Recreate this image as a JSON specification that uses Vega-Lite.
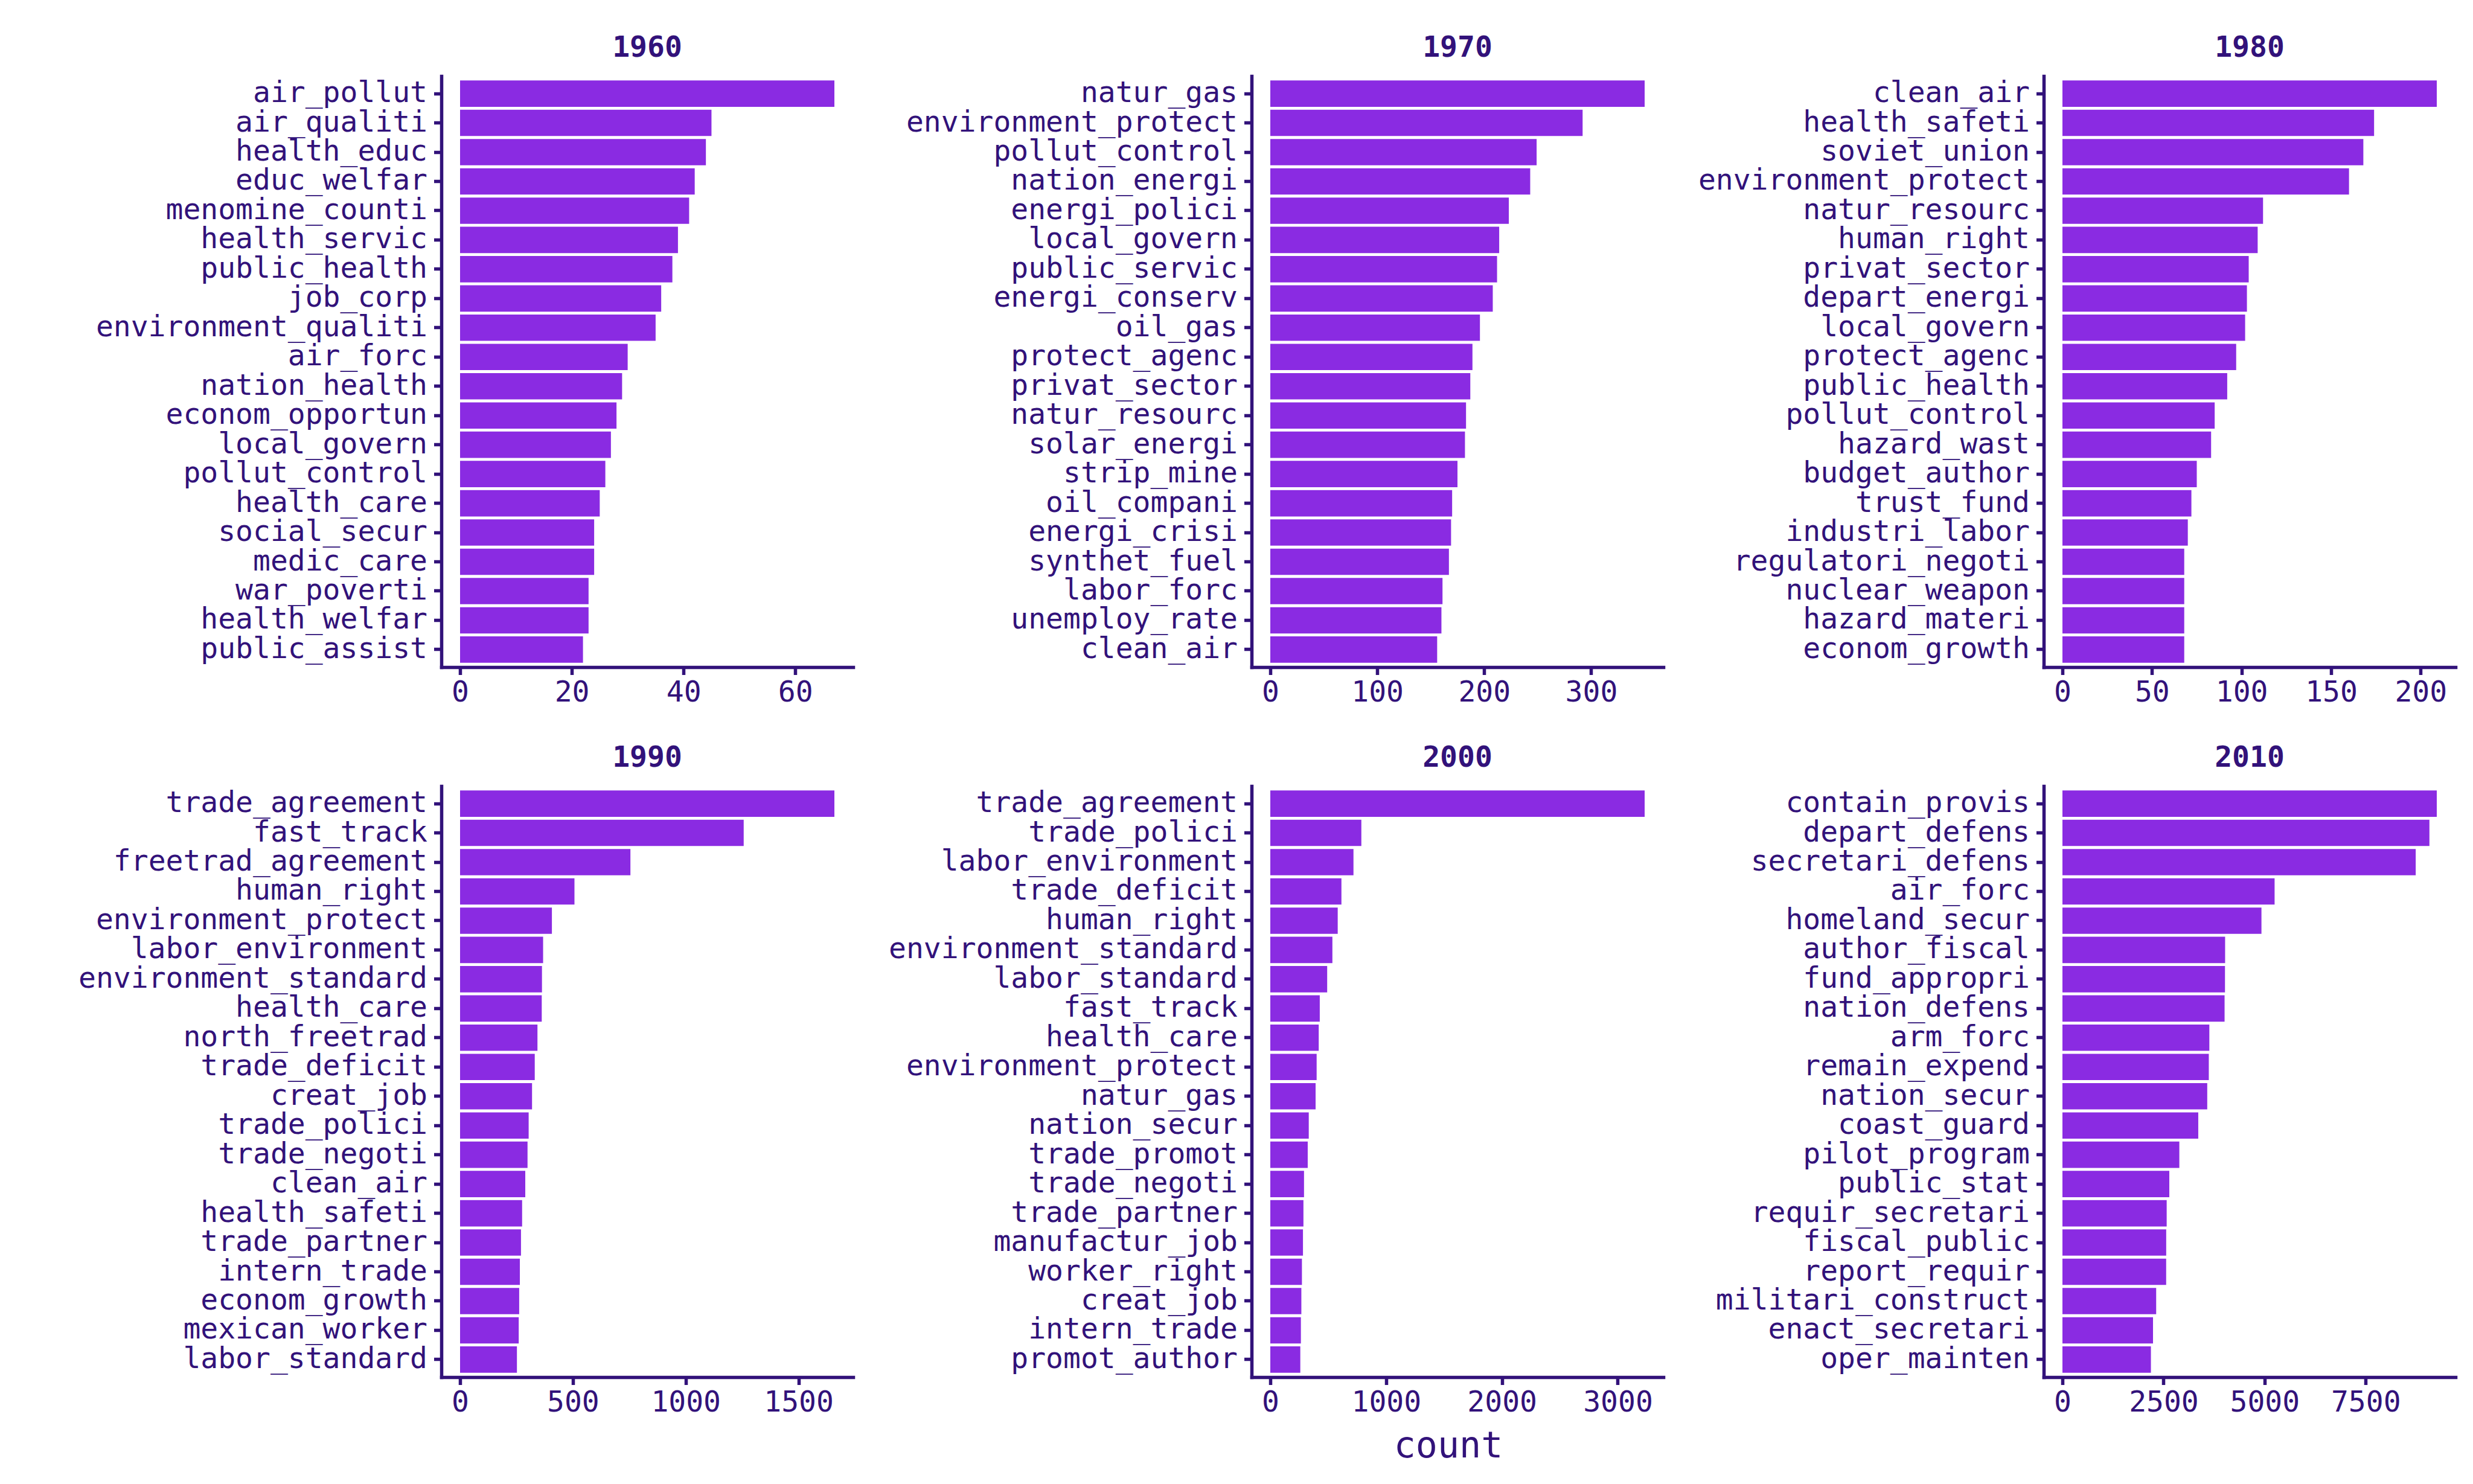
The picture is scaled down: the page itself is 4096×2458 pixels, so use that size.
{
  "$schema": "https://vega.github.io/schema/vega-lite/v6.json",
  "background": "white",
  "padding": {"left": 101, "top": 56, "right": 5, "bottom": 5},
  "datasets": {
    "y1960": [
      {"term": "air_pollut", "count": 67}, {"term": "air_qualiti", "count": 45}, {"term": "health_educ", "count": 44},
      {"term": "educ_welfar", "count": 42}, {"term": "menomine_counti", "count": 41}, {"term": "health_servic", "count": 39},
      {"term": "public_health", "count": 38}, {"term": "job_corp", "count": 36}, {"term": "environment_qualiti", "count": 35},
      {"term": "air_forc", "count": 30}, {"term": "nation_health", "count": 29}, {"term": "econom_opportun", "count": 28},
      {"term": "local_govern", "count": 27}, {"term": "pollut_control", "count": 26}, {"term": "health_care", "count": 25},
      {"term": "social_secur", "count": 24}, {"term": "medic_care", "count": 24}, {"term": "war_poverti", "count": 23},
      {"term": "health_welfar", "count": 23}, {"term": "public_assist", "count": 22}
    ],
    "y1970": [
      {"term": "natur_gas", "count": 350}, {"term": "environment_protect", "count": 292}, {"term": "pollut_control", "count": 249},
      {"term": "nation_energi", "count": 243}, {"term": "energi_polici", "count": 223}, {"term": "local_govern", "count": 214},
      {"term": "public_servic", "count": 212}, {"term": "energi_conserv", "count": 208}, {"term": "oil_gas", "count": 196},
      {"term": "protect_agenc", "count": 189}, {"term": "privat_sector", "count": 187}, {"term": "natur_resourc", "count": 183},
      {"term": "solar_energi", "count": 182}, {"term": "strip_mine", "count": 175}, {"term": "oil_compani", "count": 170},
      {"term": "energi_crisi", "count": 169}, {"term": "synthet_fuel", "count": 167}, {"term": "labor_forc", "count": 161},
      {"term": "unemploy_rate", "count": 160}, {"term": "clean_air", "count": 156}
    ],
    "y1980": [
      {"term": "clean_air", "count": 209}, {"term": "health_safeti", "count": 174}, {"term": "soviet_union", "count": 168},
      {"term": "environment_protect", "count": 160}, {"term": "natur_resourc", "count": 112}, {"term": "human_right", "count": 109},
      {"term": "privat_sector", "count": 104}, {"term": "depart_energi", "count": 103}, {"term": "local_govern", "count": 102},
      {"term": "protect_agenc", "count": 97}, {"term": "public_health", "count": 92}, {"term": "pollut_control", "count": 85},
      {"term": "hazard_wast", "count": 83}, {"term": "budget_author", "count": 75}, {"term": "trust_fund", "count": 72},
      {"term": "industri_labor", "count": 70}, {"term": "regulatori_negoti", "count": 68}, {"term": "nuclear_weapon", "count": 68},
      {"term": "hazard_materi", "count": 68}, {"term": "econom_growth", "count": 68}
    ],
    "y1990": [
      {"term": "trade_agreement", "count": 1659}, {"term": "fast_track", "count": 1257}, {"term": "freetrad_agreement", "count": 755},
      {"term": "human_right", "count": 507}, {"term": "environment_protect", "count": 407}, {"term": "labor_environment", "count": 368},
      {"term": "environment_standard", "count": 363}, {"term": "health_care", "count": 362}, {"term": "north_freetrad", "count": 343},
      {"term": "trade_deficit", "count": 331}, {"term": "creat_job", "count": 319}, {"term": "trade_polici", "count": 304},
      {"term": "trade_negoti", "count": 299}, {"term": "clean_air", "count": 289}, {"term": "health_safeti", "count": 275},
      {"term": "trade_partner", "count": 270}, {"term": "intern_trade", "count": 265}, {"term": "econom_growth", "count": 262},
      {"term": "mexican_worker", "count": 260}, {"term": "labor_standard", "count": 252}
    ],
    "y2000": [
      {"term": "trade_agreement", "count": 3232}, {"term": "trade_polici", "count": 786}, {"term": "labor_environment", "count": 718},
      {"term": "trade_deficit", "count": 614}, {"term": "human_right", "count": 582}, {"term": "environment_standard", "count": 536},
      {"term": "labor_standard", "count": 491}, {"term": "fast_track", "count": 427}, {"term": "health_care", "count": 418},
      {"term": "environment_protect", "count": 400}, {"term": "natur_gas", "count": 391}, {"term": "nation_secur", "count": 332},
      {"term": "trade_promot", "count": 323}, {"term": "trade_negoti", "count": 291}, {"term": "trade_partner", "count": 286},
      {"term": "manufactur_job", "count": 282}, {"term": "worker_right", "count": 273}, {"term": "creat_job", "count": 268},
      {"term": "intern_trade", "count": 264}, {"term": "promot_author", "count": 259}
    ],
    "y2010": [
      {"term": "contain_provis", "count": 9258}, {"term": "depart_defens", "count": 9076}, {"term": "secretari_defens", "count": 8737},
      {"term": "air_forc", "count": 5247}, {"term": "homeland_secur", "count": 4922}, {"term": "author_fiscal", "count": 4023},
      {"term": "fund_appropri", "count": 4020}, {"term": "nation_defens", "count": 4010}, {"term": "arm_forc", "count": 3633},
      {"term": "remain_expend", "count": 3620}, {"term": "nation_secur", "count": 3581}, {"term": "coast_guard", "count": 3359},
      {"term": "pilot_program", "count": 2891}, {"term": "public_stat", "count": 2643}, {"term": "requir_secretari", "count": 2578},
      {"term": "fiscal_public", "count": 2566}, {"term": "report_requir", "count": 2565}, {"term": "militari_construct", "count": 2318},
      {"term": "enact_secretari", "count": 2240}, {"term": "oper_mainten", "count": 2188}
    ]
  },
  "vconcat": [
    {
      "hconcat": [
        {
          "data": {"name": "y1960"}, "width": 682, "height": 979, "title": {"text": "1960"},
          "mark": {"type": "bar", "color": "#8A2BE2"},
          "encoding": {
            "y": {"field": "term", "type": "nominal", "sort": null, "scale": {"paddingInner": 0.1, "paddingOuter": 0.15}, "axis": {"title": null, "minExtent": 630, "maxExtent": 630}},
            "x": {"field": "count", "type": "quantitative", "scale": {"domain": [-3.35, 70.35], "nice": false, "zero": false}, "axis": {"values": [0, 20, 40, 60], "title": null}}
          }
        },
        {
          "data": {"name": "y1970"}, "width": 682, "height": 979, "title": {"text": "1970"},
          "mark": {"type": "bar", "color": "#8A2BE2"},
          "encoding": {
            "y": {"field": "term", "type": "nominal", "sort": null, "scale": {"paddingInner": 0.1, "paddingOuter": 0.15}, "axis": {"title": null, "minExtent": 630, "maxExtent": 630}},
            "x": {"field": "count", "type": "quantitative", "scale": {"domain": [-17.5, 367.5], "nice": false, "zero": false}, "axis": {"values": [0, 100, 200, 300], "title": null}}
          }
        },
        {
          "data": {"name": "y1980"}, "width": 682, "height": 979, "title": {"text": "1980"},
          "mark": {"type": "bar", "color": "#8A2BE2"},
          "encoding": {
            "y": {"field": "term", "type": "nominal", "sort": null, "scale": {"paddingInner": 0.1, "paddingOuter": 0.15}, "axis": {"title": null, "minExtent": 600, "maxExtent": 600}},
            "x": {"field": "count", "type": "quantitative", "scale": {"domain": [-10.45, 219.45], "nice": false, "zero": false}, "axis": {"values": [0, 50, 100, 150, 200], "title": null}}
          }
        }
      ],
      "spacing": 30
    },
    {
      "hconcat": [
        {
          "data": {"name": "y1990"}, "width": 682, "height": 979, "title": {"text": "1990"},
          "mark": {"type": "bar", "color": "#8A2BE2"},
          "encoding": {
            "y": {"field": "term", "type": "nominal", "sort": null, "scale": {"paddingInner": 0.1, "paddingOuter": 0.15}, "axis": {"title": null, "minExtent": 630, "maxExtent": 630}},
            "x": {"field": "count", "type": "quantitative", "scale": {"domain": [-82.95, 1741.95], "nice": false, "zero": false}, "axis": {"values": [0, 500, 1000, 1500], "format": "d", "title": null}}
          }
        },
        {
          "data": {"name": "y2000"}, "width": 682, "height": 979, "title": {"text": "2000"},
          "mark": {"type": "bar", "color": "#8A2BE2"},
          "encoding": {
            "y": {"field": "term", "type": "nominal", "sort": null, "scale": {"paddingInner": 0.1, "paddingOuter": 0.15}, "axis": {"title": null, "minExtent": 630, "maxExtent": 630}},
            "x": {"field": "count", "type": "quantitative", "scale": {"domain": [-161.6, 3393.6], "nice": false, "zero": false}, "axis": {"values": [0, 1000, 2000, 3000], "format": "d", "title": "count", "titleX": 325.5, "titleY": 132, "titleBaseline": "alphabetic", "titleAlign": "center", "titleAnchor": null}}
          }
        },
        {
          "data": {"name": "y2010"}, "width": 682, "height": 979, "title": {"text": "2010"},
          "mark": {"type": "bar", "color": "#8A2BE2"},
          "encoding": {
            "y": {"field": "term", "type": "nominal", "sort": null, "scale": {"paddingInner": 0.1, "paddingOuter": 0.15}, "axis": {"title": null, "minExtent": 600, "maxExtent": 600}},
            "x": {"field": "count", "type": "quantitative", "scale": {"domain": [-462.9, 9720.9], "nice": false, "zero": false}, "axis": {"values": [0, 2500, 5000, 7500], "format": "d", "title": null}}
          }
        }
      ],
      "spacing": 30
    }
  ],
  "spacing": 55,
  "config": {
    "view": {"stroke": null},
    "font": "DejaVu Sans Mono",
    "axis": {
      "domainColor": "#32127A", "domainWidth": 5.5, "domainCap": "square",
      "tickColor": "#32127A", "tickWidth": 5.5, "tickSize": 12.5,
      "labelColor": "#32127A", "labelFont": "DejaVu Sans Mono", "labelFontSize": 48, "labelLimit": 2000,
      "labelOverlap": false, "labelBound": false, "labelFlush": false,
      "grid": false,
      "titleColor": "#32127A", "titleFont": "DejaVu Sans Mono", "titleFontSize": 60, "titleFontWeight": "normal"
    },
    "axisY": {"labelPadding": 11},
    "axisX": {"labelPadding": 6, "minExtent": 72, "maxExtent": 72},
    "title": {"font": "DejaVu Sans Mono", "fontSize": 48, "fontWeight": "bold", "color": "#32127A", "anchor": "middle", "frame": "group", "baseline": "alphabetic", "offset": 22}
  }
}
